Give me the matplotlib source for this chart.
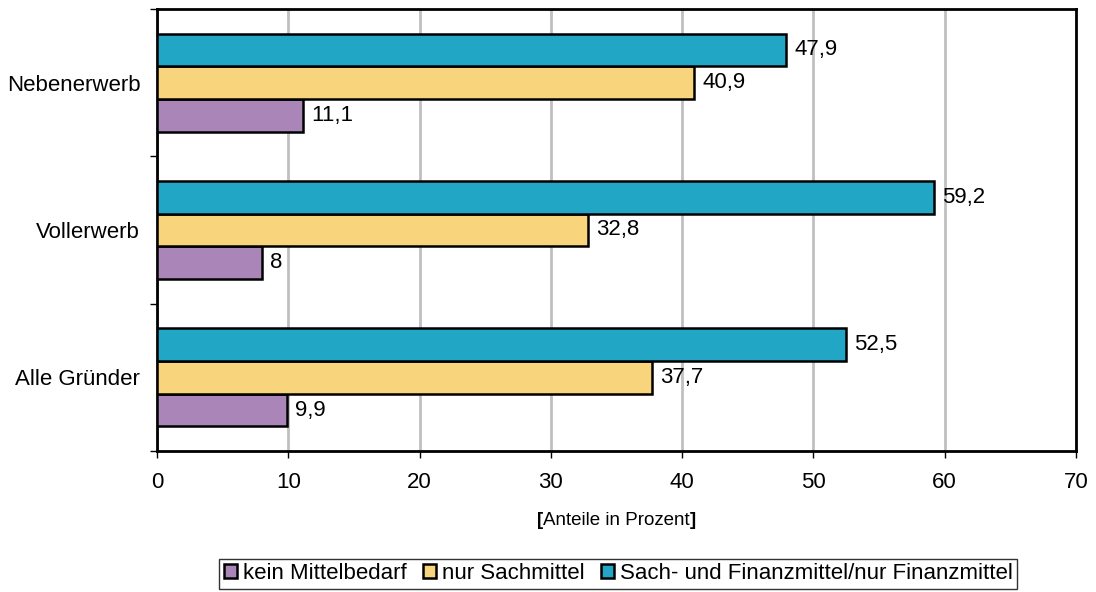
import numpy as np
import matplotlib.pyplot as plt
from matplotlib.offsetbox import TextArea, HPacker, AnchoredOffsetbox

plt.rcParams['font.family'] = ['Liberation Sans', 'DejaVu Sans']

categories = ['Alle Gründer', 'Vollerwerb', 'Nebenerwerb']
series = ['kein Mittelbedarf', 'nur Sachmittel', 'Sach- und Finanzmittel/nur Finanzmittel']
kein = [9.9, 8, 11.1]
sach = [37.7, 32.8, 40.9]
finanz = [52.5, 59.2, 47.9]
colors = ['#AA86B8', '#F8D47C', '#21A7C5']

fig = plt.figure(figsize=(10.96, 5.92), dpi=100)
ax = fig.add_axes([0.1432, 0.2382, 0.8385, 0.7466])

y = np.arange(len(categories))
h = 0.222
for i, (vals, c, lab) in enumerate(zip([kein, sach, finanz], colors, series)):
    pos = y + (i - 1) * h
    ax.barh(pos, vals, height=h, color=c, edgecolor='black', linewidth=1.8,
            label=lab, zorder=3)
    for yy, v in zip(pos, vals):
        txt = f'{v:g}'.replace('.', ',')
        ax.annotate(txt, (v, yy), xytext=(6, 0), textcoords='offset points',
                    va='center', ha='left', fontsize=16, zorder=4)

ax.set_xlim(0, 70)
ax.set_ylim(-0.5, 2.5)
ax.set_xticks(range(0, 71, 10))
ax.tick_params(axis='x', labelsize=16, length=5, width=1, pad=10)
ax.xaxis.grid(True, color='#C0C0C0', linewidth=2, zorder=0)
ax.set_axisbelow(True)

# category separators as major ticks, names on minor ticks
ax.set_yticks([-0.5, 0.5, 1.5, 2.5])
ax.set_yticklabels([])
ax.tick_params(axis='y', which='major', length=5, width=1)
ax.set_yticks(y, minor=True)
ax.set_yticklabels(categories, minor=True)
ax.tick_params(axis='y', which='minor', length=0, labelsize=16, pad=12)

for s in ax.spines.values():
    s.set_linewidth(2)

# axis title with bold brackets
parts = [TextArea('[', textprops=dict(fontsize=13.5, fontweight='bold')),
         TextArea('Anteile in Prozent', textprops=dict(fontsize=13.5)),
         TextArea(']', textprops=dict(fontsize=13.5, fontweight='bold'))]
box = HPacker(children=parts, align='baseline', pad=0, sep=0)
ab = AnchoredOffsetbox(loc='center', child=box, frameon=False,
                       bbox_to_anchor=(0.5, -0.157), bbox_transform=ax.transAxes,
                       borderpad=0, pad=0)
ax.add_artist(ab)

leg = ax.legend(loc='upper center', bbox_to_anchor=(0.502, -0.244), ncol=3,
                fontsize=16, frameon=True, fancybox=False, edgecolor='black',
                handlelength=0.6, handleheight=0.6, handletextpad=0.25,
                columnspacing=0.75, borderpad=0.2, borderaxespad=0)
leg.get_frame().set_linewidth(1)

fig.savefig('out.png', dpi=100)
